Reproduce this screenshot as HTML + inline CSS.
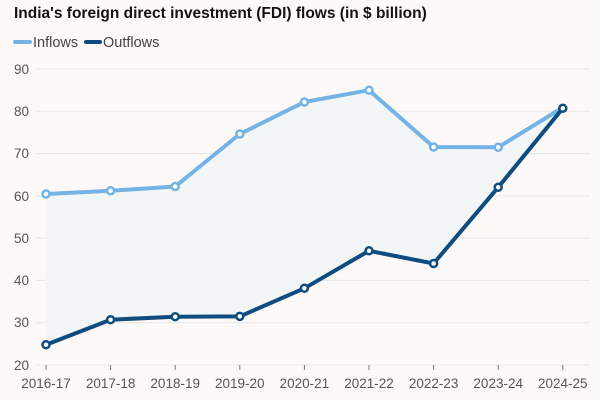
<!DOCTYPE html><html><head><style>body{margin:0;background:#fdf9f9;}svg{display:block}</style></head><body>
<svg width="600" height="400" xmlns="http://www.w3.org/2000/svg" font-family="Liberation Sans, sans-serif">
<rect width="600" height="400" fill="#fdf9f9"/>
<text x="14" y="18" font-size="15.5" font-weight="bold" fill="#121212">India's foreign direct investment (FDI) flows (in $ billion)</text>
<line x1="15" y1="42" x2="30" y2="42" stroke="#74b3e6" stroke-width="4" stroke-linecap="round"/>
<text x="33" y="47" font-size="14.5" fill="#444">Inflows</text>
<line x1="86" y1="42" x2="100" y2="42" stroke="#0f4c7f" stroke-width="4" stroke-linecap="round"/>
<text x="103" y="47" font-size="14.5" fill="#444">Outflows</text>
<g stroke="#e6e6e6" stroke-width="1">
<line x1="36" y1="69" x2="590" y2="69"/><line x1="36" y1="111.3" x2="590" y2="111.3"/><line x1="36" y1="153.6" x2="590" y2="153.6"/><line x1="36" y1="195.9" x2="590" y2="195.9"/><line x1="36" y1="238.1" x2="590" y2="238.1"/><line x1="36" y1="280.4" x2="590" y2="280.4"/><line x1="36" y1="322.7" x2="590" y2="322.7"/><line x1="36" y1="365" x2="590" y2="365"/>
</g>
<g font-size="13.5" fill="#555"><text x="14" y="74">90</text><text x="14" y="116">80</text><text x="14" y="158">70</text><text x="14" y="201">60</text><text x="14" y="243">50</text><text x="14" y="285">40</text><text x="14" y="327">30</text><text x="14" y="370">20</text></g>
<g stroke="#777" stroke-width="1"><line x1="46" y1="365" x2="46" y2="370"/><line x1="110.6" y1="365" x2="110.6" y2="370"/><line x1="175.2" y1="365" x2="175.2" y2="370"/><line x1="239.8" y1="365" x2="239.8" y2="370"/><line x1="304.4" y1="365" x2="304.4" y2="370"/><line x1="369" y1="365" x2="369" y2="370"/><line x1="433.6" y1="365" x2="433.6" y2="370"/><line x1="498.2" y1="365" x2="498.2" y2="370"/><line x1="562.8" y1="365" x2="562.8" y2="370"/></g>
<g font-size="13.5" fill="#555" text-anchor="middle"><text x="46" y="388">2016-17</text><text x="110.6" y="388">2017-18</text><text x="175.2" y="388">2018-19</text><text x="239.8" y="388">2019-20</text><text x="304.4" y="388">2020-21</text><text x="369" y="388">2021-22</text><text x="433.6" y="388">2022-23</text><text x="498.2" y="388">2023-24</text><text x="562.8" y="388">2024-25</text></g>
<polygon fill="#f3f6f6" points="46,194 110.6,190.8 175.2,186.5 239.8,134 304.4,102 369,90.2 433.6,147 498.2,147.3 562.8,107.5 562.8,108.3 498.2,187.3 433.6,263.5 369,250.8 304.4,288.3 239.8,316.4 175.2,316.7 110.6,319.7 46,344.7"/>
<polyline fill="none" stroke="#74b3e6" stroke-width="4" stroke-linejoin="round" points="46,194 110.6,190.8 175.2,186.5 239.8,134 304.4,102 369,90.2 433.6,147 498.2,147.3 562.8,107.5"/>
<polyline fill="none" stroke="#0f4c7f" stroke-width="4" stroke-linejoin="round" points="46,344.7 110.6,319.7 175.2,316.7 239.8,316.4 304.4,288.3 369,250.8 433.6,263.5 498.2,187.3 562.8,108.3"/>
<g fill="#fff" stroke="#74b3e6" stroke-width="2.5"><circle cx="46" cy="194" r="3.5"/><circle cx="110.6" cy="190.8" r="3.5"/><circle cx="175.2" cy="186.5" r="3.5"/><circle cx="239.8" cy="134" r="3.5"/><circle cx="304.4" cy="102" r="3.5"/><circle cx="369" cy="90.2" r="3.5"/><circle cx="433.6" cy="147" r="3.5"/><circle cx="498.2" cy="147.3" r="3.5"/></g>
<g fill="#fff" stroke="#0f4c7f" stroke-width="2.5"><circle cx="46" cy="344.7" r="3.5"/><circle cx="110.6" cy="319.7" r="3.5"/><circle cx="175.2" cy="316.7" r="3.5"/><circle cx="239.8" cy="316.4" r="3.5"/><circle cx="304.4" cy="288.3" r="3.5"/><circle cx="369" cy="250.8" r="3.5"/><circle cx="433.6" cy="263.5" r="3.5"/><circle cx="498.2" cy="187.3" r="3.5"/><circle cx="562.8" cy="108.3" r="3.5"/></g>
</svg></body></html>
